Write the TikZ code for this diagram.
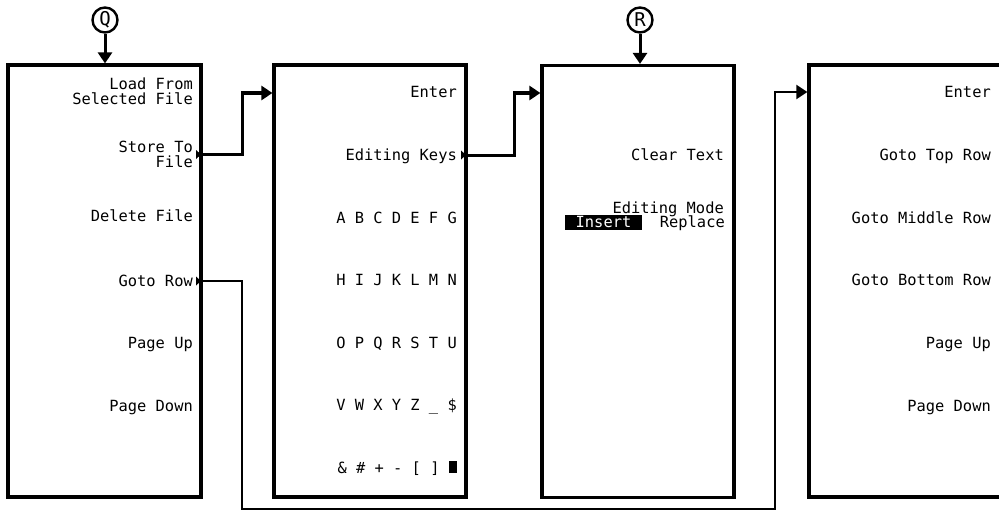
\documentclass[tikz,border=0pt]{standalone}
\usepackage{fontspec}
\newfontfamily\pix{DejaVu Sans Mono}
\usetikzlibrary{arrows.meta}
\tikzset{
  menubox/.style={draw, line width=3.2pt, minimum width=192pt, minimum height=432pt, inner sep=0pt},
  lbl/.style={anchor=base east, inner sep=0pt, font=\pix\fontsize{15.4}{16}\selectfont},
  conn/.style={line width=3pt, -{Triangle[length=11pt,width=14pt]}},
  thinconn/.style={line width=2.2pt, -{Triangle[length=11pt,width=14pt]}},
  marker/.style={circle, draw, line width=2.4pt, minimum size=25pt, inner sep=0pt, font=\pix\fontsize{19}{20}\selectfont},
  softtri/.style={fill=black}
}
\begin{document}
\begin{tikzpicture}[x=1pt,y=-1pt]
\useasboundingbox (0,0) rectangle (999,511);

% boxes
\node[menubox, minimum width=193pt] (b1) at (104.5,281) {};
\node[menubox] (b2) at (370,281) {};
\node[menubox] (b3) at (638,281.5) {};
\node[menubox] (b4) at (905,281) {};

% circled markers
\node[marker] (q) at (105,20) {Q};
\node[marker] (r) at (640,20) {R};
\draw[conn] (q.south) -- (q.south |- b1.north);
\draw[conn] (r.south) -- (r.south |- b3.north);

% box 1 labels
\node[lbl] (l1a) at (193,89) {Load From};
\node[lbl] (l1b) at (193,104) {Selected File};
\node[lbl] (l1c) at (193,152) {Store To};
\node[lbl] (l1d) at (193,167) {File};
\node[lbl] (l1e) at (193,221) {Delete File};
\node[lbl] (l1f) at (193,286) {Goto Row};
\node[lbl] (l1g) at (193,348.5) {Page Up};
\node[lbl] (l1h) at (193,411) {Page Down};

% box 2 labels
\node[lbl] (l2a) at (457,98) {Enter};
\node[lbl] (l2b) at (457,160.5) {Editing Keys};
\node[lbl] (l2c) at (457,223) {A B C D E F G};
\node[lbl] (l2d) at (457,285.5) {H I J K L M N};
\node[lbl] (l2e) at (457,348) {O P Q R S T U};
\node[lbl] (l2f) at (457,410.5) {V W X Y Z \_ \$};
\node[lbl] (l2g) at (457,473) {\& \# + - [ ] \rule{8pt}{12pt}};

% box 3 labels
\node[lbl] (l3a) at (724,160) {Clear Text};
\node[lbl] (l3b) at (724,213) {Editing Mode};
\fill (565,215) rectangle (642,229.5);
\node[lbl, anchor=base, text=white] (l3c) at (603.5,227) {Insert};
\node[lbl] (l3d) at (725,227) {Replace};

% box 4 labels
\node[lbl] (l4a) at (991,98) {Enter};
\node[lbl] (l4b) at (991,160.5) {Goto Top Row};
\node[lbl] (l4c) at (991,223) {Goto Middle Row};
\node[lbl] (l4d) at (991,285.5) {Goto Bottom Row};
\node[lbl] (l4e) at (991,348.5) {Page Up};
\node[lbl] (l4f) at (991,411) {Page Down};

% softkey markers
\coordinate (m1) at (b1.east |- 0,154.5);
\coordinate (m2) at (b2.east |- 0,155);
\coordinate (m3) at (b1.east |- 0,281);
\foreach \m in {m1,m2,m3} {
  \fill[softtri] (\m) ++(-1.6,0) -- ++(-5,-4.5) -- ++(0,9) -- cycle;
}

% connectors
\coordinate (k1) at (242,93);
\coordinate (k2) at (514,93);
\coordinate (k3) at (242,509);
\coordinate (k4) at (775,92);
\draw[conn] (m1) -| (k1) -- (k1 -| b2.west);
\draw[conn] (m2) -| (k2) -- (k2 -| b3.west);
\draw[thinconn] (m3) -| (k3) -| (k4) -- (k4 -| b4.west);
\end{tikzpicture}
\end{document}
